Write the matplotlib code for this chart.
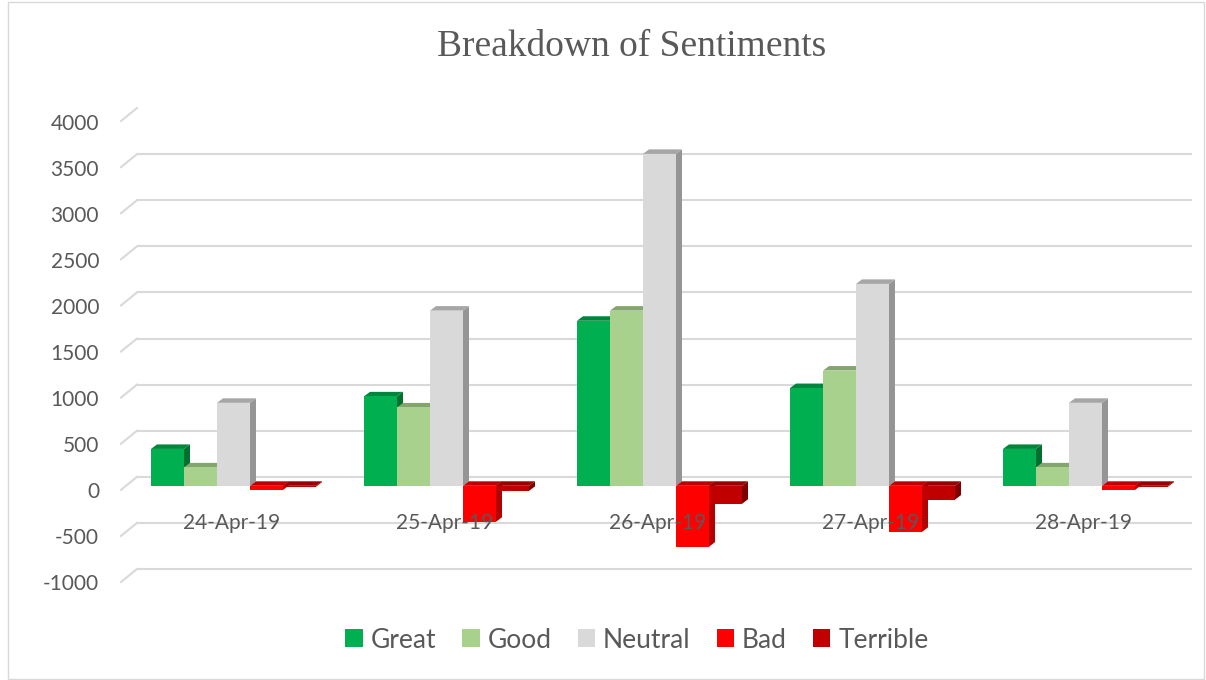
"""
Breakdown of Sentiments - Excel 风格的 3D 簇状柱形图
"""
import matplotlib

matplotlib.use("Agg")
import matplotlib.pyplot as plt
from matplotlib.patches import Polygon, Patch, Rectangle
from matplotlib.transforms import offset_copy

plt.rcParams['font.family'] = ['Lato', 'DejaVu Sans']

dates = ['24-Apr-19', '25-Apr-19', '26-Apr-19', '27-Apr-19', '28-Apr-19']
great = [400, 970, 1790, 1060, 400]
good = [200, 850, 1900, 1250, 200]
neutral = [900, 1900, 3600, 2190, 900]
bad = [-45, -390, -660, -500, -45]
terrible = [-10, -55, -195, -150, -10]
series_names = ['Great', 'Good', 'Neutral', 'Bad', 'Terrible']
y_ticks = [-1000, -500, 0, 500, 1000, 1500, 2000, 2500, 3000, 3500, 4000]

# 正面 / 顶面 / 侧面 颜色
front_colors = ['#00B050', '#A9D18E', '#D9D9D9', '#FF0000', '#C00000']
top_colors = ['#00853C', '#84A56E', '#A6A6A6', '#C00000', '#9A0000']
side_colors = ['#00702F', '#7E9E69', '#959595', '#B50000', '#7F0000']
text_color = '#595959'
grid_color = '#D9D9D9'

W, H = 1206, 680
fig = plt.figure(figsize=(W / 100, H / 100), dpi=100)
ax = fig.add_axes([127 / W, (H - 578) / H, 1065 / W, 461 / H])
ax.set_xlim(-0.5, len(dates) - 0.5)
ax.set_ylim(-1000, 4000)
ax.axis('off')

# 像素 -> 数据单位
px_x = 1065 / len(dates)
px_y = 461 / 5000
DX, DY = 6, 4.5
dx, dy = DX / px_x, DY / px_y

front_tr = offset_copy(ax.transData, fig=fig, x=-6, y=-4, units='dots')
back_tr = offset_copy(ax.transData, fig=fig, x=10, y=9, units='dots')

# 网格线（背面墙 + 左侧斜线）
for v in y_ticks:
    ax.plot([-0.5, len(dates) - 0.5], [v, v], color=grid_color, lw=1.5,
            transform=back_tr, zorder=1, solid_capstyle='butt')
    x0, y0 = front_tr.transform((-0.5, v))
    x1, y1 = back_tr.transform((-0.5, v))
    fig.add_artist(plt.Line2D([x0 / W, x1 / W], [y0 / H, y1 / H], color=grid_color,
                              lw=1.5, transform=fig.transFigure, zorder=1))

# 纵轴刻度文字
label_tr = offset_copy(ax.transData, fig=fig, x=-28, y=-6.5, units='dots')
for v in y_ticks:
    ax.text(-0.5, v, str(v), transform=label_tr, ha='right', va='center',
            fontsize=15, color=text_color)

# 柱子
all_series = [great, good, neutral, bad, terrible]
bw = 33 / px_x
z = 2
for i in range(len(dates)):
    for k, vals in enumerate(all_series):
        v = vals[i]
        xc = i + (k - 2) * bw
        x0, x1 = xc - bw / 2, xc + bw / 2
        t, b = max(v, 0), min(v, 0)
        side = Polygon([(x1, b), (x1 + dx, b + dy), (x1 + dx, t + dy), (x1, t)],
                       closed=True, facecolor=side_colors[k], edgecolor='none', zorder=z)
        top = Polygon([(x0, t), (x1, t), (x1 + dx, t + dy), (x0 + dx, t + dy)],
                      closed=True, facecolor=top_colors[k], edgecolor='none', zorder=z + 1)
        ax.add_patch(side)
        ax.add_patch(top)
        ax.bar(xc, v, width=bw, color=front_colors[k], zorder=z + 2, linewidth=0)
        z += 3

# 横轴类别
cat_tr = offset_copy(ax.transData, fig=fig, x=-2, y=-37, units='dots')
for i, d in enumerate(dates):
    ax.text(i, 0, d, transform=cat_tr, ha='center', va='center', fontsize=15,
            color=text_color, zorder=200)

# 标题
fig.text(632 / W, 1 - 47 / H, 'Breakdown of Sentiments', ha='center', va='center',
         fontsize=27, color=text_color, family=['Liberation Serif'])

# 图例
handles = [Patch(facecolor=c, edgecolor='none') for c in front_colors]
leg = fig.legend(handles, series_names, loc='center', bbox_to_anchor=(637 / W, 1 - 640 / H),
                 ncol=5, frameon=False, fontsize=19, handlelength=0.65, handleheight=0.65,
                 handletextpad=0.3, columnspacing=1.0)
for t in leg.get_texts():
    t.set_color(text_color)

# 图表外框
fig.add_artist(Rectangle((8 / W, 1 / H), 1196 / W, 677 / H, transform=fig.transFigure,
                         fill=False, edgecolor=grid_color, lw=1))

plt.savefig('out.png', dpi=100)
